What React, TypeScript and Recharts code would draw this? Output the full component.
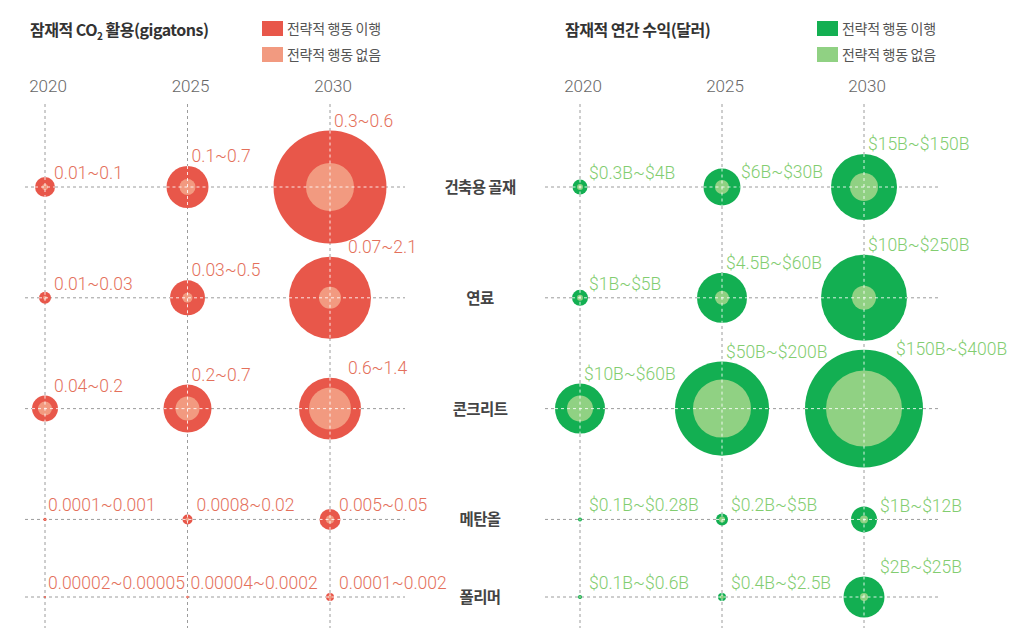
import { ScatterChart, Scatter, XAxis, YAxis, ZAxis, CartesianGrid } from 'recharts';

// 행 / 연도
const categories = ['건축용 골재', '연료', '콘크리트', '메탄올', '폴리머'];
const years = [2020, 2025, 2030];

// 세로 배치 (폴리머 행은 간격이 좁음)
const rowSlots = [0, 1, 2, 3, 3.7];

// 잠재적 CO2 활용 범위 라벨
const co2Labels = [
    ['0.01~0.1', '0.1~0.7', '0.3~0.6'],
    ['0.01~0.03', '0.03~0.5', '0.07~2.1'],
    ['0.04~0.2', '0.2~0.7', '0.6~1.4'],
    ['0.0001~0.001', '0.0008~0.02', '0.005~0.05'],
    ['0.00002~0.00005', '0.00004~0.0002', '0.0001~0.002'],
];
// 버블 면적 지수 - 전략적 행동 이행 / 없음
const co2Action = [
    [100, 441, 3190],
    [36, 306, 1680],
    [169, 576, 960],
    [2.5, 25, 110],
    [1, 1.5, 16],
];
const co2NoAction = [
    [9, 64, 576],
    [4, 25, 121],
    [49, 144, 441],
    [0.6, 4, 16],
    [0.25, 0.4, 4],
];

// 잠재적 연간 수익 범위 라벨
const revLabels = [
    ['$0.3B~$4B', '$6B~$30B', '$15B~$150B'],
    ['$1B~$5B', '$4.5B~$60B', '$10B~$250B'],
    ['$10B~$60B', '$50B~$200B', '$150B~$400B'],
    ['$0.1B~$0.28B', '$0.2B~$5B', '$1B~$12B'],
    ['$0.1B~$0.6B', '$0.4B~$2.5B', '$2B~$25B'],
];
const revAction = [
    [56, 342, 1090],
    [64, 625, 1850],
    [625, 2210, 3480],
    [4, 36, 169],
    [4, 16, 420],
];
const revNoAction = [
    [9, 49, 196],
    [9, 49, 144],
    [169, 841, 1444],
    [1, 9, 16],
    [1, 4, 16],
];

// 라벨 위치 예외
const labelNudge: Record<string, { dx?: number; dy?: number }> = {
    'rev-0-1': { dx: 19, dy: -15 },
    'rev-2-2': { dx: 32, dy: -60 },
    'rev-3-2': { dx: 16, dy: -13 },
    'rev-4-2': { dx: 16 },
    'co2-1-2': { dx: 18 },
    'co2-2-2': { dx: 18 },
};

const RED = '#E8574A';
const RED_LIGHT = '#F29A80';
const RED_TEXT = '#E4705B';
const GREEN = '#13AF52';
const GREEN_LIGHT = '#90D183';
const GREEN_TEXT = '#82CD70';

const LABEL_FONT = 'Roboto, "Noto Sans CJK KR", sans-serif';
const KR_FONT = '"Noto Sans CJK KR", "Noto Sans", sans-serif';

function buildPoints(panel: string, labels: string[][], action: number[][], none: number[][]) {
    const outer: any[] = [];
    const inner: any[] = [];
    categories.forEach((cat, i) => {
        years.forEach((yr, j) => {
            const key = `${panel}-${i}-${j}`;
            outer.push({ year: yr, row: rowSlots[i], z: action[i][j], cat, key });
            inner.push({
                year: yr, row: rowSlots[i], z: none[i][j], zOuter: action[i][j],
                label: labels[i][j], cat, key,
            });
        });
    });
    return { outer, inner };
}

const co2 = buildPoints('co2', co2Labels, co2Action, co2NoAction);
const rev = buildPoints('rev', revLabels, revAction, revNoAction);

const radiusOf = (p: any) => (p.size != null ? Math.sqrt(Math.max(p.size, 0) / Math.PI) : (p.width || 0) / 2);

const outerShape = (color: string) => (p: any) => (
    <circle cx={p.cx} cy={p.cy} r={radiusOf(p)} fill={color} />
);

const innerShape = (color: string, textColor: string) => (p: any) => {
    const rIn = radiusOf(p);
    const d = p.payload;
    const rOut = d.z > 0 ? rIn * Math.sqrt(d.zOuter / d.z) : rIn;
    const nudge = labelNudge[d.key] || {};
    const dx = nudge.dx ?? (rOut < 2 ? 3 : rOut > 13 ? 4 : 9);
    const dy = nudge.dy ?? (rOut >= 12.5 ? -(rOut + 10) : -14);
    return (
        <g>
            <circle cx={p.cx} cy={p.cy} r={rIn} fill={color} />
            {rOut > 3 && (
                <g stroke="#ffffff" strokeOpacity={0.85} strokeDasharray="3 3" strokeWidth={1}>
                    <line x1={p.cx - rOut} x2={p.cx + rOut} y1={p.cy} y2={p.cy} />
                    <line x1={p.cx} x2={p.cx} y1={p.cy - rOut} y2={p.cy + rOut} />
                </g>
            )}
            <text
                x={p.cx + dx}
                y={p.cy + dy}
                dominantBaseline="central"
                fill={textColor}
                fontSize={17.5}
                fontWeight={300}
                fontFamily={LABEL_FONT}
            >
                {d.label}
            </text>
        </g>
    );
};

const YearTick = (p: any) => (
    <text x={p.x + 3} y={p.y} dy={-4} textAnchor="middle" fill="#666" fontSize={17} fontWeight={300} fontFamily={LABEL_FONT}>
        {p.payload.value}
    </text>
);

const RowTick = (p: any) => {
    const idx = rowSlots.indexOf(p.payload.value);
    return (
        <text x={p.x} dx={75} y={p.y} dy={6} textAnchor="middle" fill="#444" fontSize={15.5} fontWeight={700} fontFamily={KR_FONT} letterSpacing={-0.6}>
            {categories[idx]}
        </text>
    );
};

function Legend({ left, dark, light }: { left: number; dark: string; light: string }) {
    const item = (color: string, text: string, top: number) => (
        <div style={{ position: 'absolute', left, top, display: 'flex', alignItems: 'center' }}>
            <div style={{ width: 21, height: 15, background: color, marginRight: 4 }} />
            <span style={{ fontFamily: KR_FONT, fontSize: 14, color: '#555', letterSpacing: -0.3 }}>{text}</span>
        </div>
    );
    return (
        <>
            {item(dark, '전략적 행동 이행', 18)}
            {item(light, '전략적 행동 없음', 44)}
        </>
    );
}

function Panel({ data, dark, light, text, showRows, width, marginLeft, padLeft, padRight, marginRight }: any) {
    return (
        <ScatterChart width={width} height={640} margin={{ top: 64, right: marginRight, left: marginLeft, bottom: 12 }}>
            <CartesianGrid stroke="#9c9c9c" strokeDasharray="3 3" syncWithTicks />
            <XAxis
                type="number"
                dataKey="year"
                orientation="top"
                domain={[2020, 2030]}
                ticks={years}
                padding={{ left: padLeft, right: padRight }}
                axisLine={false}
                tickLine={false}
                height={40}
                tick={<YearTick />}
            />
            <YAxis
                type="number"
                dataKey="row"
                orientation="right"
                reversed
                domain={[0, 3.7]}
                ticks={rowSlots}
                padding={{ top: 83, bottom: 31 }}
                axisLine={false}
                tickLine={false}
                tickSize={0}
                tickMargin={0}
                width={showRows ? 135 : 0}
                tick={showRows ? <RowTick /> : () => <g />}
            />
            <ZAxis type="number" dataKey="z" domain={[0, 3600]} range={[0, 3600 * Math.PI]} />
            <Scatter data={data.outer} shape={outerShape(dark)} isAnimationActive={false} />
            <Scatter data={data.inner} shape={innerShape(light, text)} isAnimationActive={false} />
        </ScatterChart>
    );
}

export default function App() {
    return (
        <div style={{ position: 'absolute', left: 0, top: 0, width: 1014, height: 640, background: '#fff', overflow: 'hidden' }}>
            <div style={{ position: 'absolute', left: 0, top: 0 }}>
                <Panel data={co2} dark={RED} light={RED_LIGHT} text={RED_TEXT} showRows width={540}
                    marginLeft={25} marginRight={0} padLeft={20} padRight={75} />
            </div>
            <div style={{ position: 'absolute', left: 540, top: 0 }}>
                <Panel data={rev} dark={GREEN} light={GREEN_LIGHT} text={GREEN_TEXT} showRows={false} width={474}
                    marginLeft={5} marginRight={74} padLeft={35} padRight={76} />
            </div>

            <div style={{ position: 'absolute', left: 30, top: 17, fontFamily: KR_FONT, fontWeight: 700, fontSize: 16, color: '#333', letterSpacing: -0.5 }}>
                잠재적 CO<sub style={{ fontSize: 10 }}>2</sub> 활용(gigatons)
            </div>
            <div style={{ position: 'absolute', left: 565, top: 17, fontFamily: KR_FONT, fontWeight: 700, fontSize: 16, color: '#333', letterSpacing: -0.5 }}>
                잠재적 연간 수익(달러)
            </div>
            <Legend left={262} dark={RED} light={RED_LIGHT} />
            <Legend left={817} dark={GREEN} light={GREEN_LIGHT} />
        </div>
    );
}
